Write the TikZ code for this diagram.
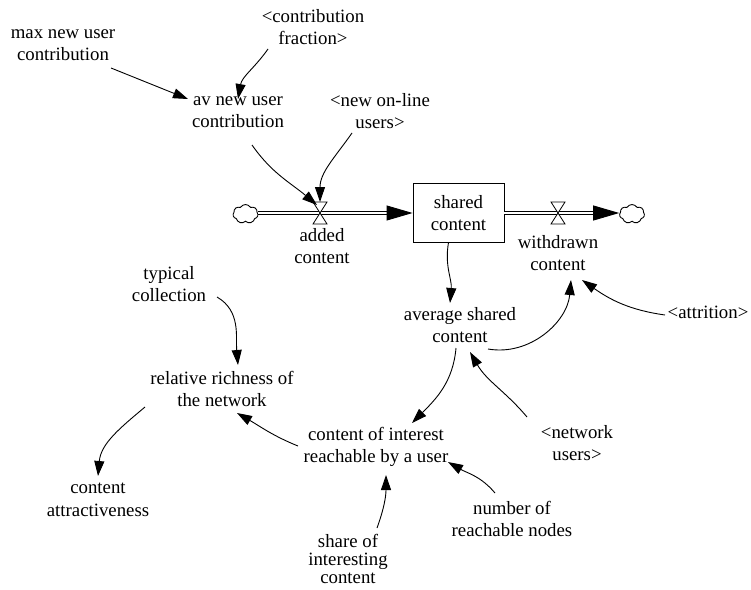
\documentclass[tikz,border=0pt]{standalone}
\usepackage{fontspec}
\setmainfont{Liberation Serif}
\usetikzlibrary{arrows.meta,shapes.symbols}
\tikzset{
  var/.style={align=center, inner sep=1pt},
  link/.style={line width=0.9pt, -{Triangle[length=15pt,width=10pt]}},
  pipe/.style={draw, double=white, double distance=2.4pt, line width=0.9pt,
    -{Triangle[length=26pt,width=15pt]}},
  sky/.style={cloud, draw, cloud puffs=7, cloud puff arc=120, aspect=1.3,
    minimum width=25pt, minimum height=19pt, inner sep=0pt, line width=0.9pt},
  valve/.pic={\draw[fill=white, line width=0.8pt]
    (-7,11) -- (7,11) -- (-7,-11) -- (7,-11) -- cycle;}
}
\begin{document}
\begin{tikzpicture}[x=1pt, y=1pt, font=\fontsize{18.8}{22.5}\selectfont]
            \useasboundingbox (0,0) rectangle (751,-589);

            \node (stock) at (458.5,-213) [draw, line width=0.9pt, minimum width=91pt, minimum height=59pt, align=center] {shared\\content};
            \node (srccloud) at (245.5,-214) [sky] {};
            \node (sinkcloud) at (632,-214) [sky] {};
            \coordinate (addvalve) at (320,-213);
            \coordinate (wdvalve) at (558,-213);

            \draw[pipe] (srccloud.east |- stock) to (stock);
            \draw[pipe] (stock) to (sinkcloud.west |- stock);
            \pic at (addvalve) {valve};
            \pic at (wdvalve) {valve};

            \node (added) at (322,-246) [var] {added\\content};
            \node (withdrawn) at (558,-253) [var] {withdrawn\\content};

            \node (maxnew) at (63,-45) [var] {max new user\\contribution};
            \node (cfrac) at (313,-27) [var] {<contribution\\fraction>};
            \node (avnew) at (238,-112) [var] {av new user\\contribution};
            \node (newusers) at (380,-111) [var] {<new on-line\\users>};
            \node (avshared) at (460,-325) [var] {average shared\\content};
            \node (attrition) at (708,-312) [var] {<attrition>};
            \node (netusers) at (577,-443) [var] {<network\\users>};
            \node (reach) at (376,-447) [var] {content of interest\\reachable by a user};
            \node (nodes) at (512,-519) [var] {number of\\reachable nodes};
            \node (share) at (348,-559) [var, font=\fontsize{18.8}{18}\selectfont] {share of\\interesting\\content};
            \node (typical) at (169,-284) [var] {typical\\collection};
            \node (richness) at (222,-389) [var] {relative richness of\\the network};
            \node (attract) at (98,-500) [var] {content\\attractiveness};

            \draw[link] ([shift={(48,-23)}]maxnew.center) to ([shift={(-50,13)}]avnew.center);
            \draw[link] ([shift={(-45,-22)}]cfrac.center) to[out=235, in=80] ([shift={(0,13)}]avnew.center);
            \draw[link] ([shift={(14,-33)}]avnew.center) to[out=-55, in=140] ([shift={(-3,8)}]addvalve);
            \draw[link] ([shift={(-28,-22)}]newusers.center) to[out=235, in=90] ([shift={(0,11)}]addvalve);
            \draw[link] ([shift={(-10,-29.5)}]stock.center) to[out=260, in=85] ([shift={(-10,22)}]avshared.center);
            \draw[link] ([shift={(28,-24)}]avshared.center) to[out=-10, in=-95] ([shift={(13,-27)}]withdrawn.center);
            \draw[link] ([shift={(-43,-3)}]attrition.center) to[out=172, in=-35] ([shift={(24,-27)}]withdrawn.center);
            \draw[link] ([shift={(-4,-23)}]avshared.center) to[out=-95, in=45] ([shift={(36,24)}]reach.center);
            \draw[link] ([shift={(-50,26)}]netusers.center) to[out=130, in=-60] ([shift={(10,-27)}]avshared.center);
            \draw[link] ([shift={(-17,26)}]nodes.center) to[out=130, in=-30] ([shift={(72,-15)}]reach.center);
            \draw[link] ([shift={(29,31)}]share.center) to[out=70, in=-90] ([shift={(10,-28)}]reach.center);
            \draw[link] ([shift={(-78,1)}]reach.center) to[out=158, in=-30] ([shift={(15,-24)}]richness.center);
            \draw[link] ([shift={(-77,-18)}]richness.center) to[out=220, in=85] ([shift={(0,24)}]attract.center);
            \draw[link] ([shift={(48,-13)}]typical.center) to[out=-30, in=95] ([shift={(16,24)}]richness.center);
          \end{tikzpicture}
\end{document}
